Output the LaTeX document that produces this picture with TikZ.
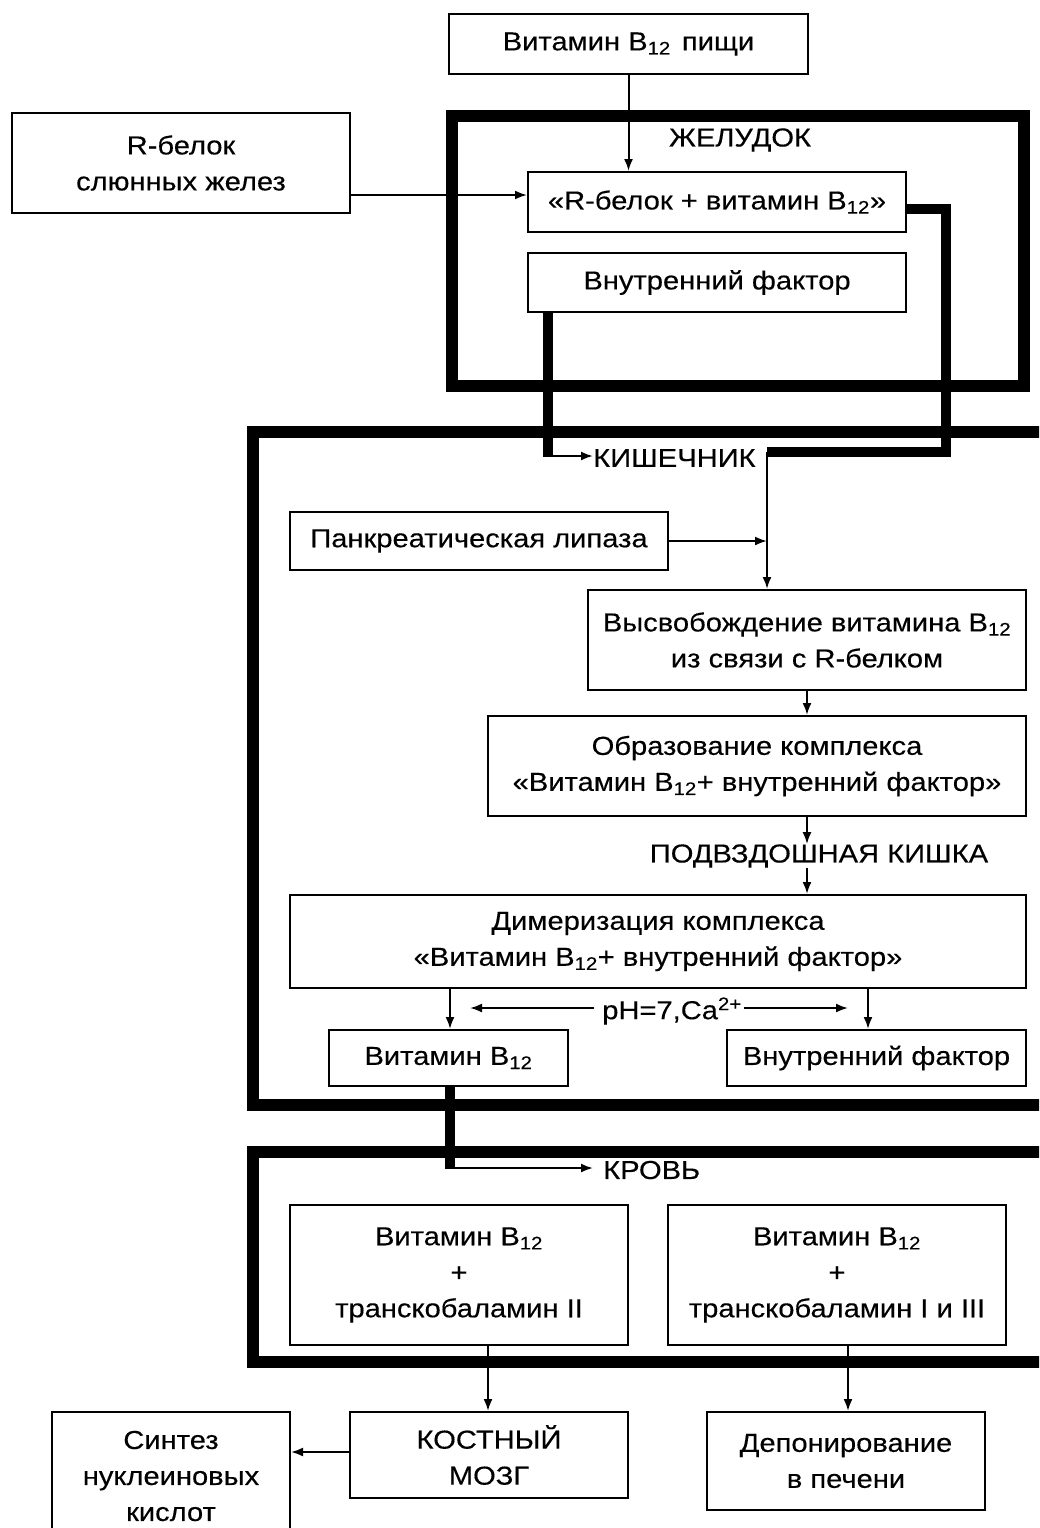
\documentclass[tikz,border=0pt]{standalone}
\usepackage{fontspec}
\setmainfont[FakeStretch=1.12,FakeBold=0.3]{Liberation Sans}
\usetikzlibrary{arrows.meta}
\newcommand{\Btw}{B\textsubscript{12}}
\begin{document}
\begin{tikzpicture}[x=1pt,y=-1pt,
  font=\fontsize{26}{36}\selectfont,
  box/.style={draw, line width=2pt, inner sep=0pt, align=center},
  frame/.style={draw, line width=12pt},
  thick link/.style={line width=10pt},
  link/.style={line width=2pt, -{Latex[length=12pt,width=9pt]}},
  lbl/.style={inner sep=0pt}]
\useasboundingbox (0,0) rectangle (1039,1528);
\clip (0,0) rectangle (1039,1528);

% organ frames
\draw[frame] (452,116) rectangle (1024,386);
\draw[frame] (253,432) rectangle (1070,1105);
\draw[frame] (253,1152) rectangle (1070,1362);

% stomach
\node[box, minimum width=359pt, minimum height=60pt] (food) at (628.5,44) {Витамин \Btw\hspace{0.12em} пищи};
\node[box, minimum width=338pt, minimum height=100pt] (rsal) at (181,163) {R-белок\\слюнных желез};
\node[lbl] (stom) at (740,140) {ЖЕЛУДОК};
\node[box, minimum width=378pt, minimum height=60pt] (rbv) at (717,202) {«R-белок + витамин \Btw»};
\node[box, minimum width=378pt, minimum height=59pt] (if1) at (717,282.5) {Внутренний фактор};

% intestine
\node[lbl, anchor=west] (gut) at (593,458) {КИШЕЧНИК};
\node[box, minimum width=378pt, minimum height=58pt] (lip) at (479,541) {Панкреатическая липаза};
\node[box, minimum width=438pt, minimum height=100pt] (rel) at (807,640) {Высвобождение витамина \Btw\\из связи с R-белком};
\node[box, minimum width=538pt, minimum height=100pt] (cpx) at (757,766) {Образование комплекса\\«Витамин \Btw+ внутренний фактор»};
\node[lbl] (ileum) at (819,856) {ПОДВЗДОШНАЯ КИШКА};
\node[box, minimum width=736pt, minimum height=93pt] (dim) at (658,941.5) {Димеризация комплекса\\«Витамин \Btw+ внутренний фактор»};
\node[lbl] (ph) at (672,1011) {pH=7,Ca\textsuperscript{2+}};
\node[box, minimum width=239pt, minimum height=56pt] (vb) at (448.5,1058) {Витамин \Btw};
\node[box, minimum width=299pt, minimum height=56pt] (if2) at (876.5,1058) {Внутренний фактор};

% blood
\node[lbl, anchor=west] (blood) at (603,1170) {КРОВЬ};
\node[box, minimum width=338pt, minimum height=140pt] (tc2) at (459,1275) {Витамин \Btw\\+\\транскобаламин II};
\node[box, minimum width=338pt, minimum height=140pt] (tc13) at (837,1275) {Витамин \Btw\\+\\транскобаламин I и III};

% targets
\node[box, minimum width=278pt, minimum height=86pt] (bm) at (489,1455) {КОСТНЫЙ\\МОЗГ};
\node[box, minimum width=278pt, minimum height=98pt] (liv) at (846,1461) {Депонирование\\в печени};
\node[box, minimum width=238pt, minimum height=128pt] (syn) at (171,1476) {Синтез\\нуклеиновых\\кислот};

% bend points
\coordinate (a1) at (946,452);
\coordinate (a2) at (767,452);
\coordinate (b1) at (548,456);
\coordinate (c1) at (450,1168);
\coordinate (pl) at (470,1008);
\coordinate (pr) at (848,1008);

% connectors
\draw[link] (food.south) -- (food.south |- rbv.north);
\draw[link] (rsal.east |- rbv.west) ++(0,-7) coordinate (r0) -- (r0 -| rbv.west);
\draw[thick link] ([yshift=-7pt]rbv.east) -| (a1) -- (a2);
\draw[link] (a2) -- (a2 |- rel.north);
\draw[link] (lip.east) -- (lip.east -| a2);
\draw[thick link] (if1.south -| b1) -- (b1);
\draw[link] ([xshift=-5pt]b1) -- (b1 -| gut.west);
\draw[link] (rel.south) -- (rel.south |- cpx.north);
\draw[link] (rel.south |- cpx.south) -- (rel.south |- ileum.north);
\draw[link] (rel.south |- ileum.south) -- (rel.south |- dim.north);
\draw[link] (450,988) coordinate (d1) -- (d1 |- vb.north);
\draw[link] (868,988) coordinate (d2) -- (d2 |- if2.north);
\draw[link] ([xshift=-8pt]ph.west |- pl) -- (pl);
\draw[link] ([xshift=2pt]ph.east |- pr) -- (pr);
\draw[thick link] (vb.south -| c1) -- (c1);
\draw[link] ([xshift=-5pt]c1) -- ([xshift=-10pt]c1 -| blood.west);
\draw[link] (488,1345) coordinate (e1) -- (e1 |- bm.north);
\draw[link] (848,1345) coordinate (e2) -- (e2 |- liv.north);
\draw[link] (bm.west |- 0,1452) -- (syn.east |- 0,1452);
\end{tikzpicture}
\end{document}
